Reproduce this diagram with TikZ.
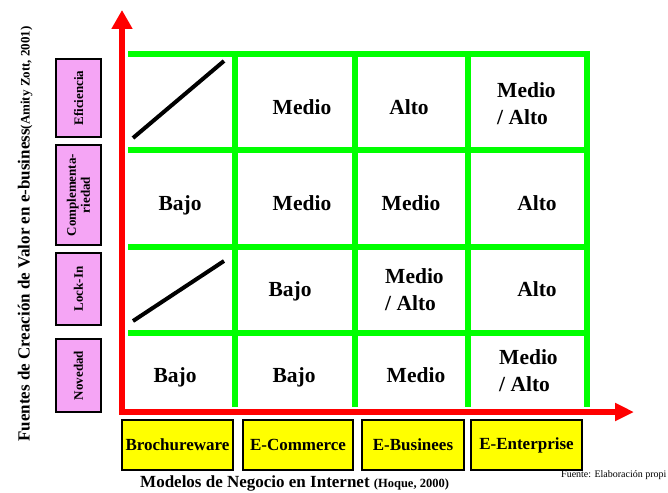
\documentclass[tikz,border=0pt]{standalone}
\usepackage{fontspec}
\setmainfont{Liberation Serif}
\usetikzlibrary{arrows.meta}
\definecolor{gridgreen}{RGB}{0,255,0}
\definecolor{axisred}{RGB}{255,0,0}
\definecolor{boxpink}{RGB}{245,165,245}
\definecolor{boxyellow}{RGB}{255,255,0}
\begin{document}
\begin{tikzpicture}[x=1pt,y=-1pt,
  gridline/.style={draw=gridgreen,line width=6pt},
  slashline/.style={draw=black,line width=4pt},
  cell/.style={font=\bfseries\fontsize{21.5}{27}\selectfont,inner sep=0pt,align=left},
  sourcebox/.style={draw=black,line width=2pt,fill=boxpink,minimum height=45pt,inner sep=0pt,
    font=\bfseries\fontsize{13}{14}\selectfont,rotate=90,align=center},
  modelbox/.style={draw=black,line width=2.5pt,fill=boxyellow,minimum height=50pt,inner sep=0pt,
    font=\bfseries\fontsize{17}{20}\selectfont},
  axis/.style={draw=axisred,line width=6pt,
    {Triangle[length=19pt,width=17pt]}-{Triangle[length=19pt,width=20pt]}},
]
\useasboundingbox (0,0) rectangle (668,492);

% grid
\foreach \y in {54,150,247,333} \draw[gridline] (128,\y) -- (590,\y);
\foreach \x in {235,355,468,587} \draw[gridline] (\x,51) -- (\x,407);

% axes
\coordinate (origin) at (122,412);
\coordinate (xtip) at (634,412);
\coordinate (ytip) at (122,10);
\draw[axis] (xtip) -- (origin) -- (ytip);

% slashes
\coordinate (s1a) at (133,138); \coordinate (s1b) at (224,61);
\coordinate (s2a) at (133,321); \coordinate (s2b) at (224,261);
\draw[slashline] (s1a) -- (s1b);
\draw[slashline] (s2a) -- (s2b);

% cells
\node[cell] (c12) at (302,107) {Medio};
\node[cell] (c13) at (409,107) {Alto};
\node[cell,anchor=west] (c14) at (497,104) {Medio\\/ Alto};

\node[cell] (c21) at (180,205) {Bajo};
\node[cell] (c22) at (302,203) {Medio};
\node[cell] (c23) at (411,203) {Medio};
\node[cell] (c24) at (537,203) {Alto};

\node[cell] (c32) at (290,291) {Bajo};
\node[cell,anchor=west] (c33) at (385,290) {Medio\\/ Alto};
\node[cell] (c34) at (537,289) {Alto};

\node[cell] (c41) at (175,377) {Bajo};
\node[cell] (c42) at (294,377) {Bajo};
\node[cell] (c43) at (416,375) {Medio};
\node[cell,anchor=west] (c44) at (499,371) {Medio\\/ Alto};

% source boxes
\node[sourcebox,minimum width=78pt] (efi) at (78.5,98) {Eficiencia};
\node[sourcebox,minimum width=100pt] (com) at (78.5,195) {Complementa-\\riedad};
\node[sourcebox,minimum width=72pt] (lock) at (78.5,289) {Lock-In};
\node[sourcebox,minimum width=73pt] (nov) at (78.5,375.5) {Novedad};

% model boxes
\node[modelbox,minimum width=111pt] (bro) at (177.5,445) {Brochureware};
\node[modelbox,minimum width=110pt] (ecom) at (298,445) {E-Commerce};
\node[modelbox,minimum width=102pt] (ebus) at (413,445) {E-Businees};
\node[modelbox,minimum width=111pt] (eent) at (526.5,445) {E-Enterprise};

% labels
\node[rotate=90,anchor=west,inner sep=0pt,font=\bfseries\fontsize{17}{19}\selectfont] (ylabel) at (25,442)
  {Fuentes de Creación de Valor en e-business{\fontsize{13}{15}\selectfont(Amity Zott, 2001)}};
\node[anchor=base west,inner sep=0pt,font=\bfseries\fontsize{17}{20}\selectfont] (xlabel) at (140,487)
  {Modelos de Negocio en Internet {\fontsize{12.5}{14}\selectfont(Hoque, 2000)}};
\node[anchor=base west,inner sep=0pt,font=\fontsize{10}{12}\selectfont] (src) at (561,477)
  {Fuente: Elaboración propi};
\end{tikzpicture}
\end{document}
